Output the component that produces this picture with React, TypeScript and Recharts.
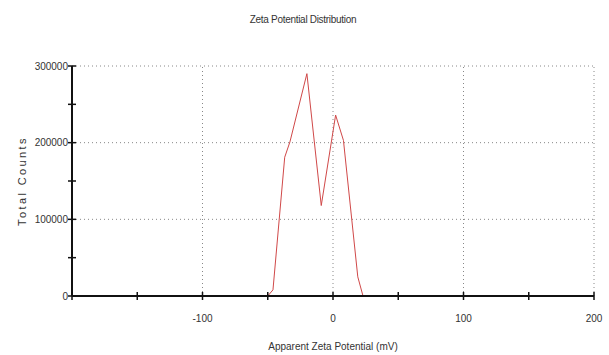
import React from "react"
import { LineChart, Line, XAxis, YAxis, ReferenceLine } from "recharts"

// zeta potential (mV) vs total counts
const potential = [-150, -50, -46, -37, -33, -20, -9, 2, 8, 19, 23, 150]
const counts = [0, 0, 8000, 181000, 201000, 290000, 118000, 236000, 203000, 25000, 0, 0]

const xTicks = [-200, -150, -100, -50, 0, 50, 100, 150, 200]
const xLabels = [-100, 0, 100, 200]
const yTicks = [0, 50000, 100000, 150000, 200000, 250000, 300000]
const yLabels = [0, 100000, 200000, 300000]

const data = potential.map((p, i) => ({ p, c: counts[i] }))

const font = "'Liberation Sans', Arial, sans-serif"

function XTick({ x, y, payload }: any) {
  const v = payload.value
  return (
    <g>
      <line x1={x} x2={x} y1={y - 4} y2={y + 4} stroke="#111" strokeWidth={1.5} />
      {xLabels.includes(v) && (
        <text x={x} y={y + 22} dy="0.35em" textAnchor="middle" fontSize={10} fontFamily={font} fill="#333">
          {v}
        </text>
      )}
    </g>
  )
}

function YTick({ x, y, payload }: any) {
  const v = payload.value
  return (
    <g>
      <line x1={x - 4} x2={x + 4} y1={y} y2={y} stroke="#111" strokeWidth={1.5} />
      {yLabels.includes(v) && (
        <text x={x - 4} y={y} dy="0.35em" textAnchor="end" fontSize={10} fontFamily={font} fill="#333">
          {v}
        </text>
      )}
    </g>
  )
}

function YTitle({ viewBox }: any) {
  const cy = viewBox.y + viewBox.height / 2
  return (
    <text
      x={22}
      y={cy}
      dy="0.35em"
      textAnchor="middle"
      transform={`rotate(-90 22 ${cy})`}
      fontSize={11}
      letterSpacing={2.4}
      fontFamily={font}
      fill="#333"
    >
      Total Counts
    </text>
  )
}

function XTitle({ viewBox }: any) {
  return (
    <text x={viewBox.x + viewBox.width / 2} y={346} dy="0.35em" textAnchor="middle" fontSize={10} fontFamily={font} fill="#333">
      Apparent Zeta Potential (mV)
    </text>
  )
}

export default function App() {
  return (
    <div style={{ position: "absolute", left: 0, top: 0, width: 609, height: 355, background: "#fff" }}>
      <div
        style={{
          position: "absolute",
          top: 14,
          left: 0,
          width: 606,
          textAlign: "center",
          fontSize: 10,
          lineHeight: "12px",
          letterSpacing: -0.3,
          fontFamily: font,
          color: "#333",
        }}
      >
        Zeta Potential Distribution
      </div>
      <LineChart width={609} height={355} data={data} margin={{ top: 66, right: 15, bottom: 0, left: 0 }}>
        <XAxis
          dataKey="p"
          type="number"
          domain={[-200, 200]}
          ticks={xTicks}
          interval={0}
          tickSize={0}
          tickMargin={0}
          tickLine={false}
          height={59}
          axisLine={{ stroke: "#111", strokeWidth: 2 }}
          tick={<XTick />}
          label={<XTitle />}
        />
        <YAxis
          type="number"
          domain={[0, 300000]}
          ticks={yTicks}
          interval={0}
          tickSize={0}
          tickMargin={0}
          tickLine={false}
          width={72}
          axisLine={{ stroke: "#111", strokeWidth: 2 }}
          tick={<YTick />}
          label={<YTitle />}
        />
        {xLabels.map((v) => (
          <ReferenceLine key={`vx${v}`} x={v} stroke="#888" strokeDasharray="1 3" />
        ))}
        {[100000, 200000, 300000].map((v) => (
          <ReferenceLine key={`hy${v}`} y={v} stroke="#888" strokeDasharray="1 3" />
        ))}
        <Line dataKey="c" type="linear" stroke="#d04848" strokeWidth={1} dot={false} isAnimationActive={false} />
      </LineChart>
    </div>
  )
}
